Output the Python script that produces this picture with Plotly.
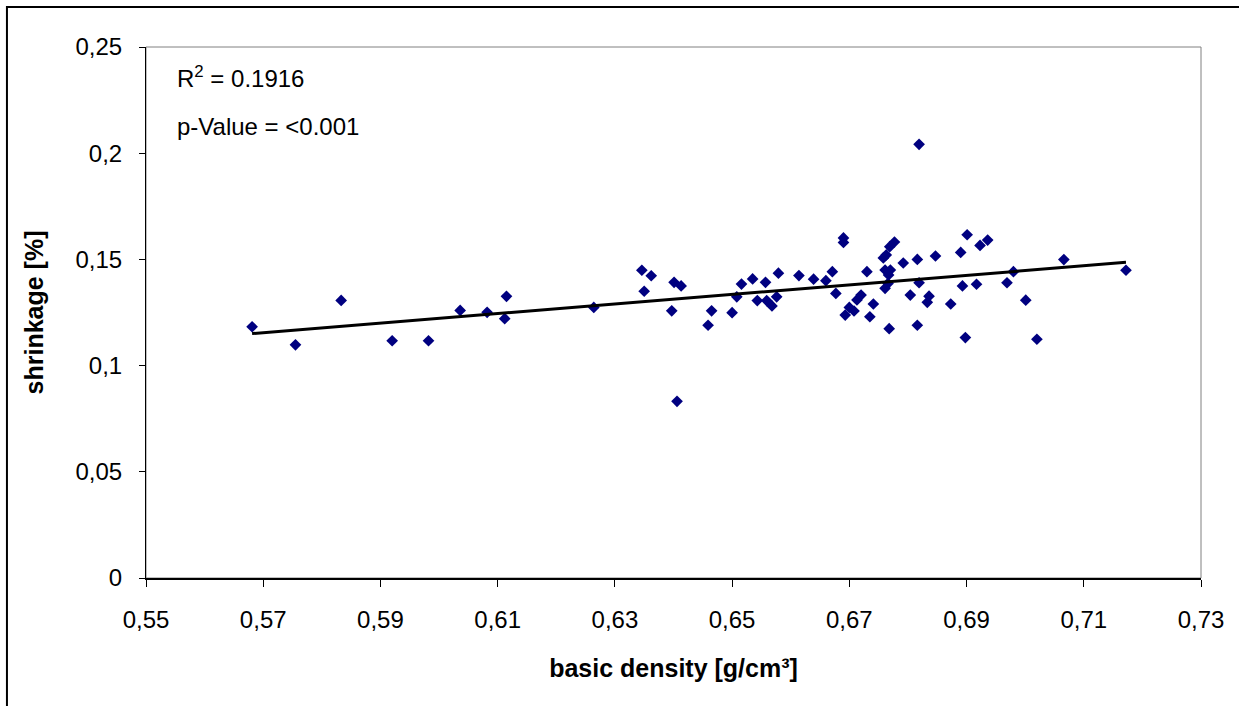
import numpy as np
import plotly.graph_objects as go

# basic density [g/cm³]
density = [
    0.5681, 0.5755, 0.5833, 0.5920, 0.5982, 0.6036, 0.6082, 0.6115, 0.6112, 0.6264,
    0.6346, 0.6362, 0.6350, 0.6401, 0.6413, 0.6397, 0.6406, 0.6459, 0.6465, 0.6500,
    0.6508, 0.6516, 0.6535, 0.6543, 0.6557, 0.6559, 0.6568, 0.6576, 0.6579, 0.6614,
    0.6639, 0.6660, 0.6671, 0.6677, 0.6690, 0.6690, 0.6693, 0.6700, 0.6708, 0.6713,
    0.6720, 0.6730, 0.6735, 0.6741, 0.6758, 0.6763, 0.6769, 0.6777, 0.6761, 0.6770,
    0.6767, 0.6761, 0.6766, 0.6768, 0.6792, 0.6804, 0.6816, 0.6816, 0.6819, 0.6819,
    0.6847, 0.6836, 0.6833, 0.6873, 0.6890, 0.6901, 0.6923, 0.6936, 0.6893, 0.6917,
    0.6898, 0.6969, 0.6980, 0.7001, 0.7020, 0.7066, 0.7172,
]
# shrinkage [%]
shrinkage = [
    0.1183, 0.1098, 0.1307, 0.1117, 0.1117, 0.1260, 0.1251, 0.1326, 0.1221, 0.1274,
    0.1449, 0.1423, 0.1350, 0.1392, 0.1375, 0.1258, 0.0832, 0.1190, 0.1258, 0.1249,
    0.1324, 0.1384, 0.1408, 0.1306, 0.1392, 0.1306, 0.1281, 0.1324, 0.1435, 0.1424,
    0.1407, 0.1400, 0.1442, 0.1340, 0.1601, 0.1580, 0.1238, 0.1274, 0.1257, 0.1309,
    0.1332, 0.1442, 0.1230, 0.1290, 0.1507, 0.1521, 0.1560, 0.1582, 0.1450, 0.1450,
    0.1427, 0.1364, 0.1387, 0.1174, 0.1483, 0.1332, 0.1500, 0.1190, 0.2042, 0.1390,
    0.1516, 0.1327, 0.1298, 0.1290, 0.1533, 0.1616, 0.1566, 0.1591, 0.1375, 0.1383,
    0.1132, 0.1390, 0.1442, 0.1308, 0.1124, 0.1499, 0.1449,
]

x_tickvals = [0.55, 0.57, 0.59, 0.61, 0.63, 0.65, 0.67, 0.69, 0.71, 0.73]
x_ticktext = ["0,55", "0,57", "0,59", "0,61", "0,63", "0,65", "0,67", "0,69", "0,71", "0,73"]
y_tickvals = [0, 0.05, 0.1, 0.15, 0.2, 0.25]
y_ticktext = ["0", "0,05", "0,1", "0,15", "0,2", "0,25"]

r2_text = "R<sup>2</sup> = 0.1916"
p_text = "p-Value = <0.001"

# linear trend line fitted to the data
slope, intercept = np.polyfit(density, shrinkage, 1)
x_line = np.array([min(density), max(density)])
y_line = slope * x_line + intercept

FONT = "Liberation Sans, Arial, sans-serif"

fig = go.Figure()
fig.add_trace(go.Scatter(
    x=density, y=shrinkage, mode="markers",
    marker=dict(symbol="diamond", size=9, color="#000080", line=dict(width=0)),
    showlegend=False, hoverinfo="skip",
))
fig.add_trace(go.Scatter(
    x=x_line, y=y_line, mode="lines",
    line=dict(color="black", width=3),
    showlegend=False, hoverinfo="skip",
))

fig.update_layout(
    width=1239, height=706,
    margin=dict(l=146, r=38, t=47, b=128),
    paper_bgcolor="white", plot_bgcolor="white",
    font=dict(family=FONT, size=24, color="black"),
    xaxis=dict(
        range=[0.55, 0.73], tickvals=x_tickvals, ticktext=x_ticktext,
        showgrid=False, zeroline=False, showline=True, linecolor="black", linewidth=2,
        ticks="outside", ticklen=7, tickwidth=1, tickcolor="black",
        tickfont=dict(size=24), ticklabelstandoff=12,
        title=dict(text="<b>basic density [g/cm³]</b>", font=dict(size=25), standoff=28),
    ),
    yaxis=dict(
        range=[0, 0.25], tickvals=y_tickvals, ticktext=y_ticktext,
        showgrid=False, zeroline=False, showline=True, linecolor="black", linewidth=1,
        ticks="outside", ticklen=6, tickwidth=1, tickcolor="black",
        tickfont=dict(size=24), ticklabelstandoff=12,
        title=dict(text="<b>shrinkage [%]</b>", font=dict(size=25), standoff=24),
    ),
    shapes=[
        dict(type="rect", xref="paper", yref="paper", x0=0, y0=0, x1=1, y1=1,
             line=dict(color="#808080", width=1), layer="below"),
        dict(type="rect", xref="paper", yref="paper", x0=-0.1318, y0=-0.27, x1=1.06, y1=1.0753,
             line=dict(color="black", width=2), layer="below"),
    ],
    annotations=[
        dict(text=r2_text, xref="paper", yref="paper", x=0.0275, y=0.944,
             xanchor="left", yanchor="middle", showarrow=False, font=dict(size=24)),
        dict(text=p_text, xref="paper", yref="paper", x=0.0275, y=0.8512,
             xanchor="left", yanchor="middle", showarrow=False, font=dict(size=24)),
    ],
)

fig.write_html("out.html")
